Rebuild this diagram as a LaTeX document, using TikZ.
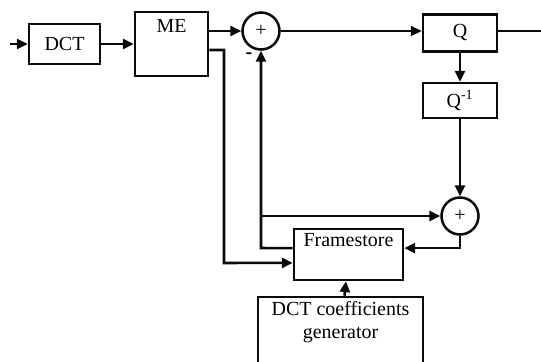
\documentclass[tikz,border=0pt]{standalone}
\usepackage{fontspec}
\setmainfont{Liberation Serif}
\usetikzlibrary{arrows.meta,positioning}
\definecolor{inkblack}{RGB}{10,10,10}
\tikzset{
  blk/.style={draw=inkblack, line width=1.8pt, rectangle, inner sep=2pt},
  sumnode/.style={draw=inkblack, line width=1.8pt, circle, minimum size=0.925cm, inner sep=0pt},
  wire/.style={draw=inkblack, line width=1.8pt, -{Triangle[length=0.27cm,width=0.25cm]}},
  thinwire/.style={draw=inkblack, line width=1.1pt},
}
\begin{document}
\begin{tikzpicture}[x=0.025cm, y=-0.025cm, font=\fontsize{14.2}{16}\selectfont]
  \clip (0,0) rectangle (541,362);
  \node[blk, minimum width=1.775cm, minimum height=1.0cm] (dct) at (64.5,44) {DCT};
  \node[blk, minimum width=1.825cm, minimum height=1.6cm,
        label={[anchor=north, inner sep=6pt]north:ME}] (me) at (171.5,44) {};
  \node[sumnode] (add1) at (261,31) {+};
  \node[font=\Large\bfseries] (minus) at (249,56) {-};
  \node[blk, minimum width=1.85cm, minimum height=0.925cm] (q) at (460,33) {Q};
  \node[blk, minimum width=1.85cm, minimum height=0.875cm] (qi) at (460,100.5) {Q\textsuperscript{-1}};
  \node[sumnode] (add2) at (460,216) {+};
  \node[blk, minimum width=2.725cm, minimum height=1.275cm,
        label={[anchor=north, inner sep=4pt]north:Framestore}] (fs) at (348.5,254.5) {};
  \node[blk, minimum width=4.125cm, minimum height=2.0cm,
        label={[anchor=north, align=center, inner sep=4pt]north:DCT coefficients\\generator}] (gen) at (340.5,337) {};
  \coordinate (in) at (10,44);
  \coordinate (out) at (541,31);
  \coordinate (fb) at (261,248);
  \coordinate (jn) at (261,216);
  \coordinate (turn) at (224,263);
  % forward path
  \draw[wire] (in) -- (dct.west);
  \draw[wire] (dct) -- (me);
  \draw[wire] (me.east |- add1) -- (add1.west);
  \draw[thinwire, -{Triangle[length=0.27cm,width=0.25cm]}] (add1.east) -- (q.west |- add1);
  \draw[thinwire] (q.east |- out) -- (out);
  \draw[wire] (q) -- (qi);
  \draw[wire] (qi) -- (add2);
  % loop back
  \draw[wire] (add2.south) |- ([yshift=0.16cm]fs.east);
  \draw[wire] ([yshift=0.16cm]fs.west) -- (fb) -- (add1.south);
  \draw[wire] (jn) -- (add2.west);
  \draw[wire] ([yshift=-0.15cm]me.east) -| (turn) -- ([yshift=-0.21cm]fs.west);
  \draw[wire] (gen) -- (fs);
\end{tikzpicture}
\end{document}
